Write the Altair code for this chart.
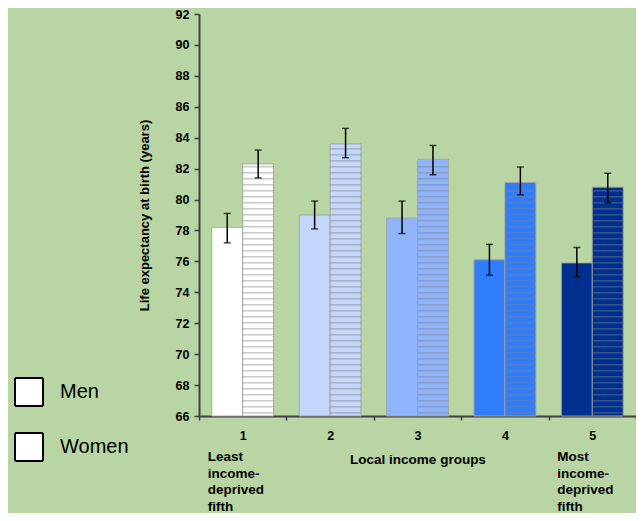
import altair as alt
import numpy as np
import pandas as pd

groups = ["1", "2", "3", "4", "5"]
men = [78.2, 79.0, 78.8, 76.1, 75.9]
women = [82.3, 83.6, 82.6, 81.1, 80.8]
men_lo = [77.2, 78.1, 77.8, 75.1, 75.0]
men_hi = [79.1, 79.9, 79.9, 77.1, 76.9]
women_lo = [81.4, 82.7, 81.6, 80.3, 79.8]
women_hi = [83.2, 84.6, 83.5, 82.1, 81.7]
group_colors = ["#FFFFFF", "#C5D6FC", "#8FB4FC", "#2F7DFB", "#00308F"]
sexes = ["Men", "Women"]
y_ticks = [66, 68, 70, 72, 74, 76, 78, 80, 82, 84, 86, 88, 90, 92]
notes = {"1": "Least\nincome-\ndeprived\nfifth", "5": "Most\nincome-\ndeprived\nfifth"}

BASE = 66
FONT = "Liberation Sans"

rows = []
for i, g in enumerate(groups):
    rows.append({"group": g, "sex": "Men", "value": men[i], "lo": men_lo[i], "hi": men_hi[i]})
    rows.append({"group": g, "sex": "Women", "value": women[i], "lo": women_lo[i], "hi": women_hi[i]})
df = pd.DataFrame(rows)
df["base"] = BASE

# horizontal stripe pattern for the women's bars
period, thick = 0.388, 0.1
srows = []
for i, g in enumerate(groups):
    c = BASE + 0.21
    while c < women[i] - 0.15:
        srows.append({"group": g, "sex": "Women", "s0": c - thick / 2, "s1": c + thick / 2})
        c += period
sdf = pd.DataFrame(srows)

ndf = pd.DataFrame({"group": list(notes.keys()), "text": list(notes.values())})

x_enc = alt.X("group:N", sort=groups,
              scale=alt.Scale(domain=groups, paddingInner=0, paddingOuter=0),
              axis=alt.Axis(title="Local income groups", labelAngle=0, tickBand="extent",
                            labelFont=FONT, labelFontSize=12.5, labelFontWeight="bold",
                            labelColor="black", labelPadding=9, tickSize=4, tickColor="#404040",
                            tickWidth=1.5, domainColor="#404040", domainWidth=2,
                            titleFont=FONT, titleFontSize=13.5, titleFontWeight="bold",
                            titleColor="black", titlePadding=11))
xo_enc = alt.XOffset("sex:N", sort=sexes,
                     scale=alt.Scale(domain=sexes, paddingInner=0, paddingOuter=0.413))
y_scale = alt.Scale(domain=[66, 92], nice=False, zero=False)
y_axis = alt.Axis(values=y_ticks, tickCount=14, title="Life expectancy at birth (years)", grid=False,
                  labelOverlap=False, labelFlush=False,
                  labelFont=FONT, labelFontSize=12.5, labelFontWeight="bold", labelColor="black",
                  labelPadding=5, tickSize=5, tickColor="#404040", tickWidth=1.5,
                  domainColor="#404040", domainWidth=2,
                  titleFont=FONT, titleFontSize=13, titleFontWeight="bold", titleColor="black",
                  titlePadding=24)


def yq(field):
    return alt.Y(field, type="quantitative", scale=y_scale, axis=y_axis)


bars = alt.Chart(df).mark_bar(stroke="#A3A3A3", strokeWidth=1).encode(
    x=x_enc,
    xOffset=xo_enc,
    y=yq("value"),
    y2="base:Q",
    color=alt.Color("group:N", scale=alt.Scale(domain=groups, range=group_colors), legend=None),
    strokeDash=alt.StrokeDash("sex:N", sort=sexes,
                              scale=alt.Scale(domain=sexes, range=[[1, 0], [1, 0]]),
                              legend=alt.Legend(title=None, orient="none", legendX=-185, legendY=363,
                                                symbolType="square", symbolSize=784,
                                                symbolFillColor="white", symbolStrokeColor="black",
                                                symbolStrokeWidth=2, labelFont=FONT, labelFontSize=20,
                                                labelColor="black", labelOffset=16, rowPadding=19,
                                                padding=0)),
)

stripes = alt.Chart(sdf).mark_bar(color="#808080", opacity=0.42).encode(
    x=x_enc,
    xOffset=xo_enc,
    y=yq("s0"),
    y2="s1:Q",
)

err = alt.Chart(df).mark_rule(color="black", strokeWidth=1.5).encode(
    x=x_enc,
    xOffset=xo_enc,
    y=yq("lo"),
    y2="hi:Q",
)
cap_lo = alt.Chart(df).mark_tick(color="black", thickness=1.5, size=7, orient="horizontal").encode(
    x=x_enc,
    xOffset=xo_enc,
    y=yq("lo"),
)
cap_hi = alt.Chart(df).mark_tick(color="black", thickness=1.5, size=7, orient="horizontal").encode(
    x=x_enc,
    xOffset=xo_enc,
    y=yq("hi"),
)

notes_layer = alt.Chart(ndf).mark_text(align="left", baseline="top", dx=-35, lineBreak="\n",
                                       lineHeight=16.5, font=FONT, fontSize=13.5,
                                       fontWeight="bold", color="black").encode(
    x=x_enc,
    y=alt.value(436),
    text="text:N",
)

chart = alt.layer(bars, stripes, err, cap_lo, cap_hi, notes_layer).properties(
    width=437, height=402,
    autosize=alt.AutoSizeParams(type="none"),
    padding={"left": 191, "top": 6, "right": 0, "bottom": 97},
    background="#B8D5A3",
).configure_view(stroke=None)

chart.save("out.html", embed_options={"renderer": "svg", "actions": False})
